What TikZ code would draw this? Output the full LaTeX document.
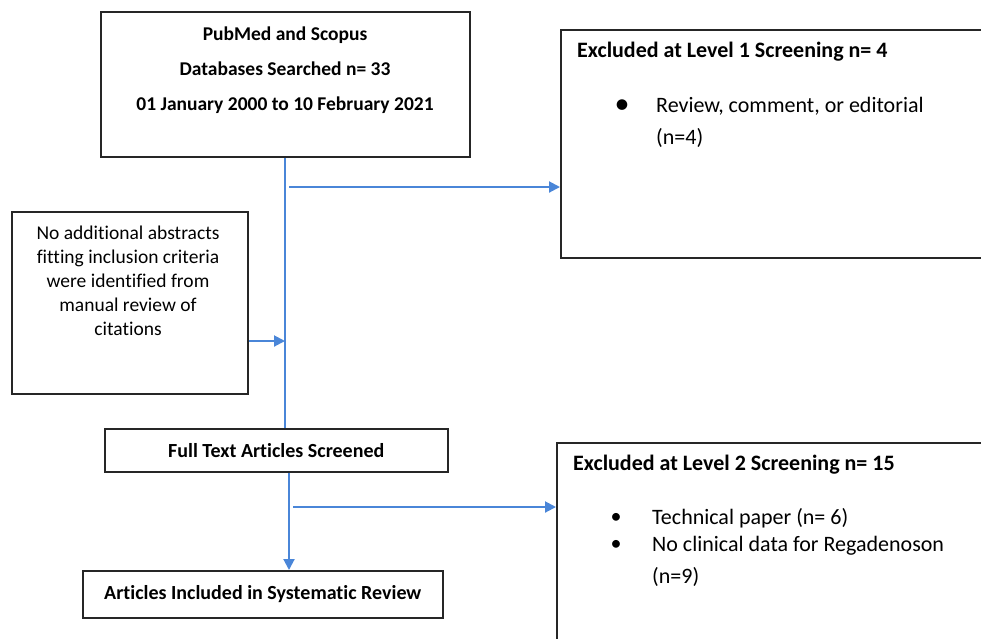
\documentclass[tikz,border=0pt]{standalone}
\usepackage{fontspec}
\setmainfont{Carlito}[Ligatures=NoCommon]
\usepackage{tikz}
\usetikzlibrary{arrows.meta}
\usetikzlibrary{positioning}
\definecolor{flowblue}{RGB}{74,134,216}
\tikzset{
    box/.style={
           rectangle,
           draw=black!85, line width=1.5pt,
           inner sep=0pt,
           },
}
\tikzset{
    flow/.style={
           draw=flowblue, line width=2pt,
           },
}
\tikzset{
    arr/.style={
           flow,
           -{Triangle[length=11pt,width=11pt]},
           },
}
\tikzset{
    head/.style={
           font=\fontsize{19.5}{35}\selectfont\bfseries,
           inner sep=0pt,
           },
    body/.style={
           font=\fontsize{19.5}{24}\selectfont,
           inner sep=0pt,
           },
    side/.style={
           font=\fontsize{22}{32}\selectfont,
           inner sep=0pt,
           },
}

\begin{document}
\begin{tikzpicture}[x=1pt,y=-1pt]
\useasboundingbox (0,0) rectangle (981,638);
\clip (0,0) rectangle (981,638);
% boxes
\node[box,anchor=north west,minimum width=369pt,minimum height=145pt](search) at (100,11){};
\node[box,anchor=north west,minimum width=440pt,minimum height=228pt](excl1) at (560,29){};
\node[box,anchor=north west,minimum width=236pt,minimum height=182pt](manual) at (11,211){};
\node[box,anchor=north west,minimum width=343pt,minimum height=43pt,head,font=\fontsize{20}{24}\selectfont\bfseries](full) at (104,428){Full Text Articles Screened};
\node[box,anchor=north west,minimum width=360pt,minimum height=47pt,head,font=\fontsize{20}{24}\selectfont\bfseries](incl) at (82,570){Articles Included in Systematic Review};
\node[box,anchor=north west,minimum width=450pt,minimum height=220pt](excl2) at (556,442){};
% texts
\node[head,align=center](searchtxt) at (285,70){PubMed and Scopus\\Databases Searched n= 33\\01 January 2000 to 10 February 2021};
\node[body,align=center](manualtxt) at (128,281){No additional abstracts\\fitting inclusion criteria\\were identified from\\manual review of\\citations};
\node[side,anchor=west,font=\fontsize{22}{32}\selectfont\bfseries](excl1head) at (577,52){Excluded at Level 1 Screening n= 4};
\node[side,font=\fontsize{30}{30}\selectfont](dot1) at (622,107){•};
\node[side,anchor=west,align=left](excl1txt) at (656,122){Review, comment, or editorial\\(n=4)};
\node[side,anchor=west,font=\fontsize{22}{32}\selectfont\bfseries](excl2head) at (573,465){Excluded at Level 2 Screening n= 15};
\node[side](dot2) at (616,518){•};
\node[side](dot3) at (616,545){•};
\node[side,anchor=west](excl2a) at (652,518){Technical paper (n= 6)};
\node[side,anchor=west,align=left](excl2b) at (652,561){No clinical data for Regadenoson\\(n=9)};
% connectors
\coordinate (j1) at (289,187);
\coordinate (j2) at (285,341);
\coordinate (j3) at (289,0);
\coordinate (j4) at (293,507);
\draw[flow] (search.south) -- (search.south |- full.north);
\draw[arr] (j1) -- (j1 -| excl1.west);
\draw[arr] (j2 -| manual.east) -- (j2);
\draw[arr] (j3 |- full.south) -- (j3 |- incl.north);
\draw[arr] (j4) -- (j4 -| excl2.west);
\end{tikzpicture}
\end{document}
